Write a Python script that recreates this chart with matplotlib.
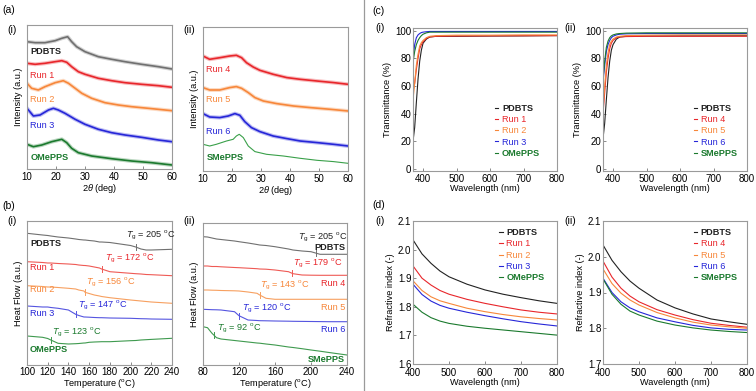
import numpy as np
import matplotlib.pyplot as plt
from matplotlib.lines import Line2D

plt.rcParams['font.family'] = ['Liberation Sans', 'DejaVu Sans']
plt.rcParams['mathtext.fontset'] = 'custom'
plt.rcParams['mathtext.rm'] = 'Liberation Sans'
plt.rcParams['mathtext.it'] = 'Liberation Sans:italic'
FS = 6.6
TFS = 7

# --- colours ---
C_BLACK = '#222222'
C_GRAY = '#707070'
C_RED = '#e8262b'
C_ORANGE = '#f7873a'
C_BLUE = '#2626d8'
C_GREEN = '#1b7a2e'

# --- (a) XRD, intensity offsets in a.u. ---
x_pdbts_a = [10, 12.8, 16.2, 19.7, 22, 24, 25.4, 27.1, 30, 34.6, 39.2, 43.8, 49.5, 55.3, 60]
y_pdbts_a = [127.3, 126.3, 126.3, 128.3, 130.7, 132.3, 127.3, 122.3, 117.3, 112.3, 109.7, 107.3, 104.7, 102.3, 100]
x_run1_a = [10, 12.8, 16.2, 19.7, 22, 23.7, 25.4, 27.7, 30, 34.6, 39.2, 43.8, 49.5, 55.3, 60]
y_run1_a = [105.7, 104.7, 105.7, 107.3, 108.3, 106.7, 102.3, 97.3, 94.7, 90.7, 88.3, 86.3, 84.7, 83.3, 81.7]
x_run2_a = [10, 11.6, 13.9, 16.2, 19.7, 22.5, 24.3, 26.6, 28.9, 32.3, 36.9, 41.5, 46.1, 51.8, 60]
y_run2_a = [85.7, 80.7, 79, 82.3, 86.3, 88.3, 85.7, 80.7, 75.7, 70.7, 66.3, 64, 62.3, 60.7, 58.3]
x_run3_a = [10, 12.2, 14.5, 17.4, 19.1, 20.8, 23.1, 26.6, 30, 34.6, 39.2, 43.8, 49.5, 55.3, 60]
y_run3_a = [60.7, 53, 54, 59, 60.7, 59, 55.7, 49.7, 44.7, 39.7, 36.3, 34, 31.7, 29, 27.3]
x_omepps_a = [10, 12.2, 15.1, 18.5, 22, 23.7, 25.4, 27.7, 32.3, 39.2, 46.1, 53, 60]
y_omepps_a = [24.7, 22.3, 24, 27.3, 29.7, 26.3, 20.7, 16.3, 13, 10.3, 8, 6.3, 4]

x_run4_a = [10, 12.3, 15.8, 19.2, 21.5, 23.3, 25, 27.3, 29.6, 34.2, 38.9, 43.5, 49.3, 55, 60]
y_run4_a = [115, 111.7, 113.3, 115, 115.7, 113.3, 108.3, 104, 100.7, 96.7, 93.4, 91.7, 90, 88.4, 86.7]
x_run5_a = [10, 12.3, 15.8, 19.2, 21.5, 23.3, 25.6, 27.9, 30.8, 35.4, 41.2, 47, 53.9, 60]
y_run5_a = [83.4, 81, 81, 83.4, 84.4, 82.7, 78.4, 73.4, 70, 67.4, 65, 63.4, 61.7, 60]
x_run6_a = [10, 12.3, 15.8, 18.7, 21, 22.7, 24.4, 26.7, 29.6, 34.2, 38.9, 43.5, 49.3, 55, 60]
y_run6_a = [57.4, 54, 53.4, 55, 57.4, 55.7, 49.4, 43.4, 39.4, 35, 32.4, 30, 28.4, 26.7, 25]
x_smepps_a = [10, 12.3, 14.6, 18.1, 20.4, 21.5, 22.5, 23.9, 25.6, 27.9, 31.9, 37.7, 43.5, 49.3, 55, 60]
y_smepps_a = [26.7, 25, 26.7, 30, 31.7, 35, 36.7, 33.4, 25, 19.4, 16.7, 15, 12.7, 10.7, 9.4, 7.7]

# --- (b) DSC ---
dsc_x1 = [100, 115, 120, 123, 130, 140, 147, 150, 155, 156, 160, 165, 170, 172, 180, 200, 205, 210, 215, 220, 240]
dsc_pdbts1 = [131.7, 130, 129.5, 129, 128, 127, 126, 125.5, 125, 125, 124.5, 124, 123, 123, 122.5, 119.5, 118, 116, 115, 115, 115.7]
dsc_run1 = [103.3, 102.5, 102, 102, 101.5, 101, 100.5, 100, 99.5, 99.5, 99, 98, 97, 96, 93.3, 91.7, 91.3, 91, 90.5, 90.3, 89.3]
dsc_run2 = [79.3, 78.5, 78, 78, 77.5, 76.7, 76, 75, 74, 72.7, 71.5, 70, 69, 68.5, 67.3, 65, 64.5, 64, 63.5, 63, 61.7]
dsc_run3 = [59, 58, 58, 57.5, 56.7, 55, 50.7, 49.5, 48, 48, 47.8, 47.5, 47.3, 47.3, 47, 46.7, 46.5, 46.3, 46.2, 46, 45.7]
dsc_omepps = [29, 27.7, 26.5, 25, 21.7, 21, 21.3, 21.5, 22, 22, 22.7, 23, 23.2, 23.3, 23.3, 24.3, 24.5, 25, 25.3, 25.6, 26.7]

dsc_x2 = [80, 85, 90, 95, 100, 115, 120, 130, 140, 143, 150, 160, 175, 180, 190, 200, 210, 220, 240]
dsc_pdbts2 = [128.3, 128, 127, 126, 125.5, 124, 123.3, 122, 120.5, 120, 119.5, 118.3, 116, 115, 114, 113.3, 110.7, 110.7, 110.7]
dsc_run4 = [99, 99, 98.5, 98.5, 98.2, 97.5, 97.3, 96.8, 96.3, 96, 95.8, 95, 93.3, 91.3, 90, 89.8, 89.7, 89.7, 89.7]
dsc_run5 = [75, 75, 74.8, 74.7, 74.5, 74.2, 74, 73, 71.7, 70, 66.7, 65.7, 65.7, 65.7, 65.7, 65.7, 65.7, 65.7, 65.7]
dsc_run6 = [55.7, 55.5, 55.3, 55.2, 55, 53.3, 49.3, 45, 44.5, 44.3, 44.2, 44, 43.8, 43.7, 43.6, 43.5, 43.4, 43.3, 43.3]
dsc_smepps = [38.3, 37.3, 31.7, 27.3, 26, 24.5, 24, 23, 22, 21.8, 21, 20, 18, 17.5, 16.3, 15, 13.8, 12.5, 10]

tg1 = [205, 172, 156, 147, 123]
tg2 = [205, 179, 143, 120, 92]

# --- (c) transmittance ---
uv_x = [370, 375, 380, 385, 390, 395, 400, 410, 420, 440, 500, 600, 700, 800]
uv_pdbts1 = [20, 30, 48, 65, 78, 86, 91, 94, 95.5, 96, 96, 96.2, 96.3, 96.5]
uv_run1 = [56, 62, 72, 80, 87, 90, 92, 94.5, 95.5, 96, 96.2, 96.3, 96.4, 96.5]
uv_run2 = [50, 62, 75, 83, 89, 91.5, 93, 95, 96, 96.5, 96.8, 96.8, 97, 97]
uv_run3 = [80, 90, 95, 97, 98, 98.7, 99, 99.3, 99.5, 99.5, 99.5, 99.5, 99.5, 99.5]
uv_omepps = [77, 85, 90, 93, 95, 96.5, 97.5, 98.5, 99, 99, 99, 99, 99, 99]

uv_pdbts2 = [22, 33, 50, 66, 78, 86, 90, 94, 95.5, 96, 96.2, 96.3, 96.4, 96.5]
uv_run4 = [40, 55, 70, 80, 87, 91, 93, 95, 95.5, 95.8, 96, 96, 96, 96]
uv_run5 = [42, 60, 75, 84, 90, 92.5, 94, 95.5, 96, 96.5, 96.8, 97, 97, 97]
uv_run6 = [63, 75, 85, 90, 93, 95, 96, 97, 97.5, 97.8, 98, 98, 98, 98]
uv_smepps = [65, 78, 88, 92.5, 95, 96.3, 97, 97.7, 98, 98.3, 98.5, 98.5, 98.5, 98.5]

# --- (d) refractive index ---
ri_x = [400, 425, 450, 475, 500, 550, 600, 650, 700, 750, 800]
ri_pdbts1 = [2.034, 1.985, 1.952, 1.925, 1.905, 1.879, 1.859, 1.844, 1.832, 1.821, 1.812]
ri_run1 = [1.943, 1.900, 1.876, 1.857, 1.844, 1.826, 1.812, 1.800, 1.789, 1.781, 1.775]
ri_run2 = [1.891, 1.857, 1.835, 1.821, 1.812, 1.795, 1.783, 1.773, 1.765, 1.759, 1.754]
ri_run3 = [1.879, 1.843, 1.820, 1.805, 1.795, 1.781, 1.769, 1.758, 1.748, 1.740, 1.733]
ri_omepps = [1.809, 1.781, 1.762, 1.750, 1.742, 1.732, 1.725, 1.719, 1.713, 1.707, 1.701]

ri_pdbts2 = [2.033, 1.990, 1.958, 1.932, 1.912, 1.879, 1.857, 1.840, 1.826, 1.818, 1.811]
ri_run4 = [1.988, 1.943, 1.912, 1.890, 1.874, 1.852, 1.837, 1.824, 1.814, 1.808, 1.803]
ri_run5 = [1.966, 1.925, 1.898, 1.879, 1.865, 1.844, 1.829, 1.817, 1.809, 1.804, 1.800]
ri_run6 = [1.940, 1.900, 1.874, 1.857, 1.846, 1.829, 1.818, 1.808, 1.801, 1.797, 1.795]
ri_smepps = [1.938, 1.895, 1.867, 1.848, 1.837, 1.820, 1.809, 1.801, 1.795, 1.791, 1.788]

W, H = 756, 391
fig = plt.figure(figsize=(W / 100, H / 100), dpi=100)


def px_axes(x0, y0, x1, y1):
    return fig.add_axes([x0 / W, 1 - y1 / H, (x1 - x0) / W, (y1 - y0) / H])


def style(ax, yticks=True, xpad=2.0):
    for s in ax.spines.values():
        s.set_color('#9a9a9a')
        s.set_linewidth(0.8)
    ax.tick_params(direction='in', length=2, width=0.6, labelsize=TFS,
                   color='#777777')
    ax.tick_params(axis='x', pad=xpad)
    ax.tick_params(axis='y', pad=1.2)
    if not yticks:
        ax.set_yticks([])


def ftext(x, y, s):
    fig.text(x / W, 1 - y / H, s, fontsize=7.5, va='center')


def tg_label(v):
    return r'$T_\mathrm{g}$ = %d $^\mathrm{o}$C' % v


def noisy(ax, xs, ys, c):
    ax.plot(xs, ys, color=c, lw=2.8, alpha=0.3, solid_joinstyle='round')
    ax.plot(xs, ys, color=c, lw=1.2, solid_joinstyle='round')


# ---------- (a) XRD ----------
ax = px_axes(27, 25, 172, 169)
noisy(ax, x_pdbts_a, y_pdbts_a, C_GRAY)
noisy(ax, x_run1_a, y_run1_a, C_RED)
noisy(ax, x_run2_a, y_run2_a, C_ORANGE)
noisy(ax, x_run3_a, y_run3_a, C_BLUE)
noisy(ax, x_omepps_a, y_omepps_a, C_GREEN)
ax.set_xlim(10, 60)
ax.set_ylim(0, 144)
ax.set_xticks([10, 20, 30, 40, 50, 60])
style(ax, yticks=False)
ax.set_xlabel(r'2$\theta$ (deg)', fontsize=FS, labelpad=0.5)
ax.set_ylabel('Intensity (a.u.)', fontsize=FS, labelpad=3)
for txt, y, c, w in [('PDBTS', 117, C_BLACK, 'bold'), ('Run 1', 93, C_RED, 'normal'),
                     ('Run 2', 70, C_ORANGE, 'normal'), ('Run 3', 43, C_BLUE, 'normal'),
                     ('OMePPS', 12, C_GREEN, 'bold')]:
    ax.text(11.2, y, txt, color=c, fontsize=FS, fontweight=w, va='center')

ax = px_axes(203, 27, 348, 171)
noisy(ax, x_run4_a, y_run4_a, C_RED)
noisy(ax, x_run5_a, y_run5_a, C_ORANGE)
noisy(ax, x_run6_a, y_run6_a, C_BLUE)
ax.plot(x_smepps_a, y_smepps_a, color='#3aa04a', lw=0.8)
ax.set_xlim(10, 60)
ax.set_ylim(0, 144)
ax.set_xticks([10, 20, 30, 40, 50, 60])
style(ax, yticks=False)
ax.set_xlabel(r'2$\theta$ (deg)', fontsize=FS, labelpad=0.5)
ax.set_ylabel('Intensity (a.u.)', fontsize=FS, labelpad=3)
for txt, y, c, w in [('Run 4', 101, C_RED, 'normal'), ('Run 5', 71, C_ORANGE, 'normal'),
                     ('Run 6', 40, C_BLUE, 'normal'), ('SMePPS', 14, C_GREEN, 'bold')]:
    ax.text(11.2, y, txt, color=c, fontsize=FS, fontweight=w, va='center')

# ---------- (b) DSC ----------
ax = px_axes(27, 221, 172, 365)
dsc1 = [(dsc_pdbts1, C_GRAY), (dsc_run1, '#ef5a55'), (dsc_run2, '#f7a060'),
        (dsc_run3, '#5555e0'), (dsc_omepps, '#3f9a4f')]
tcol1 = [C_BLACK, C_RED, C_ORANGE, C_BLUE, C_GREEN]
tpos1 = [(196, 130), (175, 107), (157, 83), (149, 60), (124, 33)]
for (ys, c), tg, tc, (tx, ty) in zip(dsc1, tg1, tcol1, tpos1):
    ax.plot(dsc_x1, ys, color=c, lw=0.8)
    yv = np.interp(tg, dsc_x1, ys)
    ax.plot([tg, tg], [yv - 3, yv + 3], color=c, lw=0.7)
    ax.text(tx, ty, tg_label(tg), color=tc, fontsize=FS, va='center')
for txt, y, c, w in [('PDBTS', 122, C_BLACK, 'bold'), ('Run 1', 97, C_RED, 'normal'),
                     ('Run 2', 75, C_ORANGE, 'normal'), ('Run 3', 52, C_BLUE, 'normal'),
                     ('OMePPS', 15, C_GREEN, 'bold')]:
    ax.text(103, y, txt, color=c, fontsize=FS, fontweight=w, va='center')
ax.set_xlim(100, 240)
ax.set_ylim(0, 144)
ax.set_xticks(range(100, 241, 20))
style(ax, yticks=False, xpad=1.5)
ax.set_xlabel(r'Temperature ($^\mathrm{o}$C)', fontsize=FS, labelpad=0)
ax.set_ylabel('Heat Flow (a.u.)', fontsize=FS, labelpad=3)

ax = px_axes(203, 223, 347, 365)
dsc2 = [(dsc_pdbts2, C_GRAY), (dsc_run4, '#ef5a55'), (dsc_run5, '#f7a060'),
        (dsc_run6, '#5555e0'), (dsc_smepps, '#3f9a4f')]
tpos2 = [(186, 128), (180, 102), (143, 80), (123, 57), (95, 37)]
for (ys, c), tg, tc, (tx, ty) in zip(dsc2, tg2, tcol1, tpos2):
    ax.plot(dsc_x2, ys, color=c, lw=0.8)
    yv = np.interp(tg, dsc_x2, ys)
    ax.plot([tg, tg], [yv - 3, yv + 3], color=c, lw=0.7)
    ax.text(tx, ty, tg_label(tg), color=tc, fontsize=FS, va='center')
for txt, y, c, w in [('PDBTS', 117, C_BLACK, 'bold'), ('Run 4', 82, C_RED, 'normal'),
                     ('Run 5', 58, C_ORANGE, 'normal'), ('Run 6', 36, C_BLUE, 'normal'),
                     ('SMePPS', 6, C_GREEN, 'bold')]:
    ax.text(238, y, txt, color=c, fontsize=FS, fontweight=w, va='center', ha='right')
ax.set_xlim(80, 240)
ax.set_ylim(0, 142)
ax.set_xticks([80, 120, 160, 200, 240])
style(ax, yticks=False, xpad=1.5)
ax.set_xlabel(r'Temperature ($^\mathrm{o}$C)', fontsize=FS, labelpad=0)
ax.set_ylabel('Heat Flow (a.u.)', fontsize=FS, labelpad=3)


def add_legend(ax, bbox):
    leg = ax.legend(loc='upper left', bbox_to_anchor=bbox, frameon=False,
                    fontsize=FS, handlelength=0.35, handletextpad=0.4,
                    labelspacing=0.25, borderpad=0, borderaxespad=0,
                    labelcolor='linecolor')
    for t in leg.get_texts():
        if t.get_text() in ('PDBTS', 'OMePPS', 'SMePPS'):
            t.set_fontweight('bold')
    return leg


# ---------- (c) transmittance ----------
for x0, x1, curves, names in [
        (413, 557, [uv_pdbts1, uv_run1, uv_run2, uv_run3, uv_omepps],
         ['PDBTS', 'Run 1', 'Run 2', 'Run 3', 'OMePPS']),
        (603, 747, [uv_pdbts2, uv_run4, uv_run5, uv_run6, uv_smepps],
         ['PDBTS', 'Run 4', 'Run 5', 'Run 6', 'SMePPS'])]:
    ax = px_axes(x0, 28, x1, 171)
    for ys, c, n in zip(curves, [C_BLACK, C_RED, C_ORANGE, C_BLUE, C_GREEN], names):
        ax.plot(uv_x, ys, color=c, lw=0.8, label=n)
    ax.set_xlim(370, 800)
    ax.set_ylim(-1.5, 102)
    ax.set_xticks([400, 500, 600, 700, 800])
    ax.set_yticks([0, 20, 40, 60, 80, 100])
    style(ax)
    ax.set_xlabel('Wavelength (nm)', fontsize=FS, labelpad=0.5)
    ax.set_ylabel('Transmittance (%)', fontsize=FS, labelpad=2)
    add_legend(ax, (0.57 if x0 == 413 else 0.63, 0.47))

# ---------- (d) refractive index ----------
for x0, x1, curves, names, ylo in [
        (413, 557, [ri_pdbts1, ri_run1, ri_run2, ri_run3, ri_omepps],
         ['PDBTS', 'Run 1', 'Run 2', 'Run 3', 'OMePPS'], 1.6),
        (603, 747, [ri_pdbts2, ri_run4, ri_run5, ri_run6, ri_smepps],
         ['PDBTS', 'Run 4', 'Run 5', 'Run 6', 'SMePPS'], 1.7)]:
    ax = px_axes(x0, 221, x1, 364)
    for ys, c, n in zip(curves, [C_BLACK, C_RED, C_ORANGE, C_BLUE, C_GREEN], names):
        ax.plot(ri_x, ys, color=c, lw=0.8, label=n)
    ax.set_xlim(400, 800)
    ax.set_ylim(ylo, 2.1)
    ax.set_xticks([400, 500, 600, 700, 800])
    ax.set_yticks(np.arange(ylo, 2.11, 0.1))
    ax.yaxis.set_major_formatter(plt.FormatStrFormatter('%.1f'))
    style(ax, xpad=3.2)
    ax.set_xlabel('Wavelength (nm)', fontsize=FS, labelpad=0)
    ax.set_ylabel('Refractive index (-)', fontsize=FS, labelpad=2)
    add_legend(ax, (0.60 if x0 == 413 else 0.63, 0.95))

# ---------- panel letters ----------
ftext(2, 10, '(a)')
ftext(7, 30, '(i)')
ftext(183, 30, '(ii)')
ftext(2, 206, '(b)')
ftext(7, 221, '(i)')
ftext(183, 221, '(ii)')
ftext(372, 11, '(c)')
ftext(375, 28, '(i)')
ftext(564, 28, '(ii)')
ftext(372, 205, '(d)')
ftext(375, 221, '(i)')
ftext(564, 221, '(ii)')

fig.add_artist(Line2D([364 / W, 364 / W], [0, 1], color='#9a9a9a', lw=0.9))

fig.savefig('out.png', dpi=100)
